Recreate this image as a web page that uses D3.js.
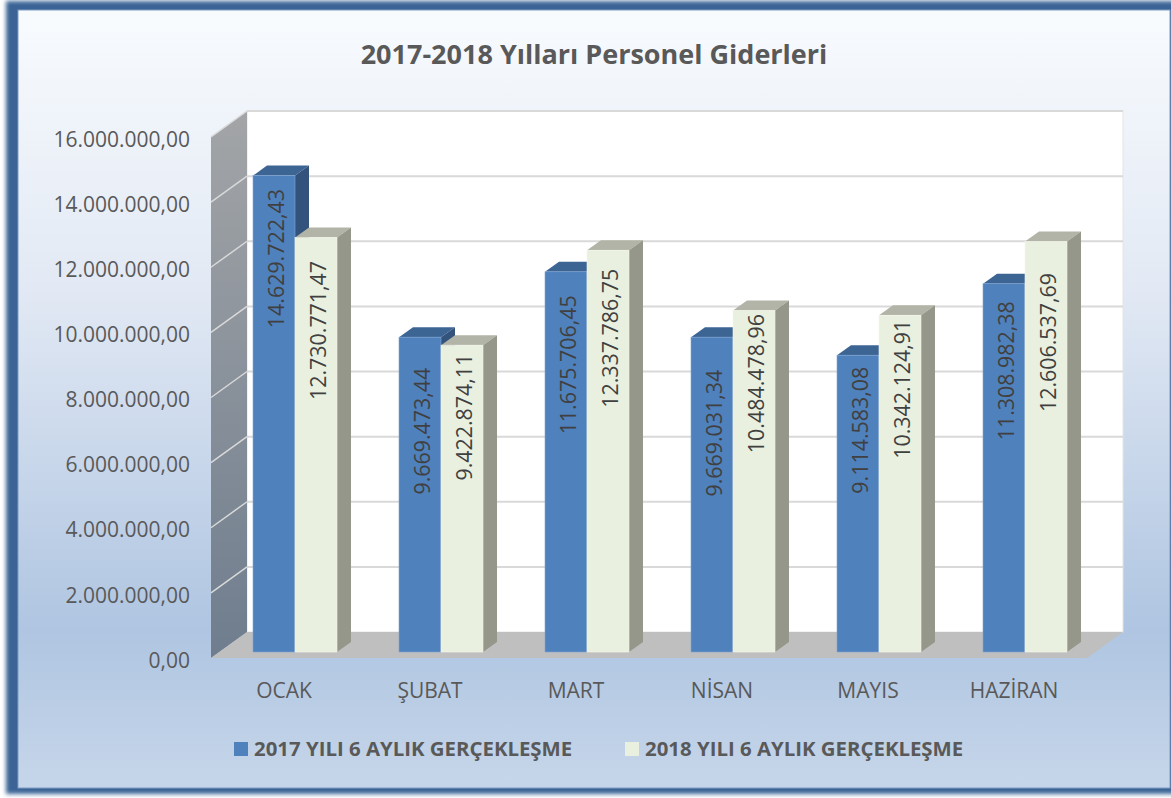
<!DOCTYPE html>
<html>
<head>
<meta charset="utf-8">
<script src="https://cdnjs.cloudflare.com/ajax/libs/d3/7.8.5/d3.min.js"></script>
<style>
html, body { margin: 0; padding: 0; background: #fff; overflow: hidden; }
text { font-family: "Open Sans", sans-serif; fill: #595959; }
</style>
</head>
<body>
<svg width="1171" height="798"></svg>
<script>
var months = ["OCAK", "ŞUBAT", "MART", "NİSAN", "MAYIS", "HAZİRAN"];
var seriesNames = ["2017 YILI 6 AYLIK GERÇEKLEŞME", "2018 YILI 6 AYLIK GERÇEKLEŞME"];
var values2017 = [14629722.43, 9669473.44, 11675706.45, 9669031.34, 9114583.08, 11308982.38];
var values2018 = [12730771.47, 9422874.11, 12337786.75, 10484478.96, 10342124.91, 12606537.69];
var yTicks = [0, 2000000, 4000000, 6000000, 8000000, 10000000, 12000000, 14000000, 16000000];
var title = "2017-2018 Yılları Personel Giderleri";

// how far each rotated label sits below its bar top (hand placed in the original)
var labelDrop2017 = [83, 94, 93, 96, 75, 87];
var labelDrop2018 = [93, 72, 88, 73, 74, 101];

var trLocale = d3.formatLocale({ decimal: ",", thousands: ".", grouping: [3], currency: ["", " TL"] });
var fmt = trLocale.format(",.2f");

var svg = d3.select("svg");
var defs = svg.append("defs");

function vGradient(id, stops, y1, y2) {
    var g = defs.append("linearGradient").attr("id", id)
        .attr("gradientUnits", "userSpaceOnUse")
        .attr("x1", 0).attr("x2", 0).attr("y1", y1).attr("y2", y2);
    stops.forEach(function(s) { g.append("stop").attr("offset", s[0]).attr("stop-color", s[1]); });
}
vGradient("panelFill", [[0, "#f8fbfe"], [0.36, "#e2e9f4"], [0.8, "#afc5e1"], [1, "#c6d6ea"]], 10, 785);
vGradient("wallFill", [[0, "#a3a5a7"], [1, "#6f7d8e"]], 111, 658);

defs.append("filter").attr("id", "soft")
    .attr("x", "-2%").attr("y", "-2%").attr("width", "104%").attr("height", "104%")
    .append("feGaussianBlur").attr("stdDeviation", 2);

// outer frame
svg.append("rect").attr("x", 6).attr("y", 1).attr("width", 1175).attr("height", 793)
    .attr("fill", "#3b6495").attr("filter", "url(#soft)");
svg.append("rect").attr("x", 18).attr("y", 10).attr("width", 1152).attr("height", 778)
    .attr("fill", "url(#panelFill)").attr("stroke", "#7f9dc4").attr("stroke-width", 1);

svg.append("text").attr("x", 594).attr("y", 64).attr("text-anchor", "middle")
    .attr("font-size", 27).attr("font-weight", 700).text(title);

// plot geometry: front plane, plus the 3d depth of the box
var x0 = 211, x1 = 1087, yBase = 658, yTop = 137;
var depthX = 36, depthY = -26;
var barDepthX = 14, barDepthY = -10;
var barShiftX = 11, barShiftY = -6;

var y = d3.scaleLinear().domain([0, 16000000]).range([yBase, yTop]);
var x = d3.scaleBand().domain(months).range([x0, x1]);
var xSeries = d3.scaleBand().domain([0, 1]).range([x.bandwidth() / 2 - 42, x.bandwidth() / 2 + 42]);

var line = d3.line();

// back wall
svg.append("rect").attr("x", x0 + depthX).attr("y", yTop + depthY)
    .attr("width", x1 - x0).attr("height", yBase - yTop)
    .attr("fill", "#fff").attr("stroke", "#e4e4e4").attr("stroke-width", 1);

// side wall
svg.append("path")
    .attr("d", line([[x0, yBase], [x0, yTop], [x0 + depthX, yTop + depthY], [x0 + depthX, yBase + depthY]]) + "Z")
    .attr("fill", "url(#wallFill)");

// floor
svg.append("path")
    .attr("d", line([[x0, yBase], [x0 + depthX, yBase + depthY], [x1 + depthX, yBase + depthY], [x1, yBase]]) + "Z")
    .attr("fill", "#bfbfbf");

// gridlines, along the side wall and across the back
var grid = svg.append("g").attr("fill", "none");
grid.selectAll("path.side").data(yTicks.slice(1)).join("path").attr("class", "side")
    .attr("d", function(d) { return line([[x0, y(d)], [x0 + depthX, y(d) + depthY]]); })
    .attr("stroke", "#d9d9d9").attr("stroke-width", 1.5);
grid.selectAll("path.back").data(yTicks.slice(1)).join("path").attr("class", "back")
    .attr("d", function(d) { return line([[x0 + depthX, y(d) + depthY], [x1 + depthX, y(d) + depthY]]); })
    .attr("stroke", "#d9d9d9").attr("stroke-width", 2);

// y axis labels
var yAxis = d3.axisLeft(y).tickValues(yTicks).tickSize(0).tickPadding(0).tickFormat(fmt);
var yG = svg.append("g").attr("transform", "translate(190,2)").call(yAxis);
yG.select(".domain").remove();
yG.selectAll("text").attr("font-size", 21).attr("font-family", null).attr("dy", "0.34em");

// x axis labels
var xAxis = d3.axisBottom(x).tickSize(0).tickPadding(0);
var xG = svg.append("g").attr("transform", "translate(0,683)").call(xAxis);
xG.select(".domain").remove();
xG.selectAll("text").attr("font-size", 21).attr("font-family", null).attr("dy", "0.71em");

// bars, left series first, right one covers its side face
var seriesStyle = [
    { front: "#4f81bd", top: "#3d6594", side: "#33537c", edge: "#7fa6d4" },
    { front: "#eaf0df", top: "#b1b4a6", side: "#94978a", edge: "#f3f5ec" }
];
var seriesValues = [values2017, values2018];
var labelDrops = [labelDrop2017, labelDrop2018];

months.forEach(function(m, i) {
    [0, 1].forEach(function(s) {
        var st = seriesStyle[s];
        var left = x(m) + xSeries(s) + barShiftX;
        var w = xSeries.bandwidth();
        var barH = yBase - y(seriesValues[s][i]);
        var bottom = yBase + barShiftY;
        var top = bottom - barH;
        var g = svg.append("g");
        g.append("path")
            .attr("d", line([[left, top], [left + barDepthX, top + barDepthY], [left + w + barDepthX, top + barDepthY], [left + w, top]]) + "Z")
            .attr("fill", st.top);
        g.append("path")
            .attr("d", line([[left + w, top], [left + w + barDepthX, top + barDepthY], [left + w + barDepthX, bottom + barDepthY], [left + w, bottom]]) + "Z")
            .attr("fill", st.side);
        g.append("rect").attr("x", left).attr("y", top).attr("width", w).attr("height", barH)
            .attr("fill", st.front).attr("stroke", st.edge).attr("stroke-width", 0.6);
    });
});

// rotated value labels go on top of every bar
months.forEach(function(m, i) {
    [0, 1].forEach(function(s) {
        var left = x(m) + xSeries(s) + barShiftX;
        var cx = left + xSeries.bandwidth() / 2 + 2;
        var top = yBase + barShiftY - (yBase - y(seriesValues[s][i]));
        var cy = top + labelDrops[s][i];
        svg.append("text")
            .attr("transform", "translate(" + cx + "," + cy + ") rotate(-90)")
            .attr("text-anchor", "middle").attr("dy", "0.36em")
            .attr("font-size", 21.4)
            .style("fill", "#404040")
            .text(fmt(seriesValues[s][i]));
    });
});

// legend
var legendX = [234, 625];
seriesNames.forEach(function(n, s) {
    svg.append("rect").attr("x", legendX[s]).attr("y", 742).attr("width", 14).attr("height", 14)
        .attr("fill", seriesStyle[s].front);
    svg.append("text").attr("x", legendX[s] + 20).attr("y", 756)
        .attr("font-size", 20.4).attr("font-weight", 700).text(n);
});
</script>
</body>
</html>
